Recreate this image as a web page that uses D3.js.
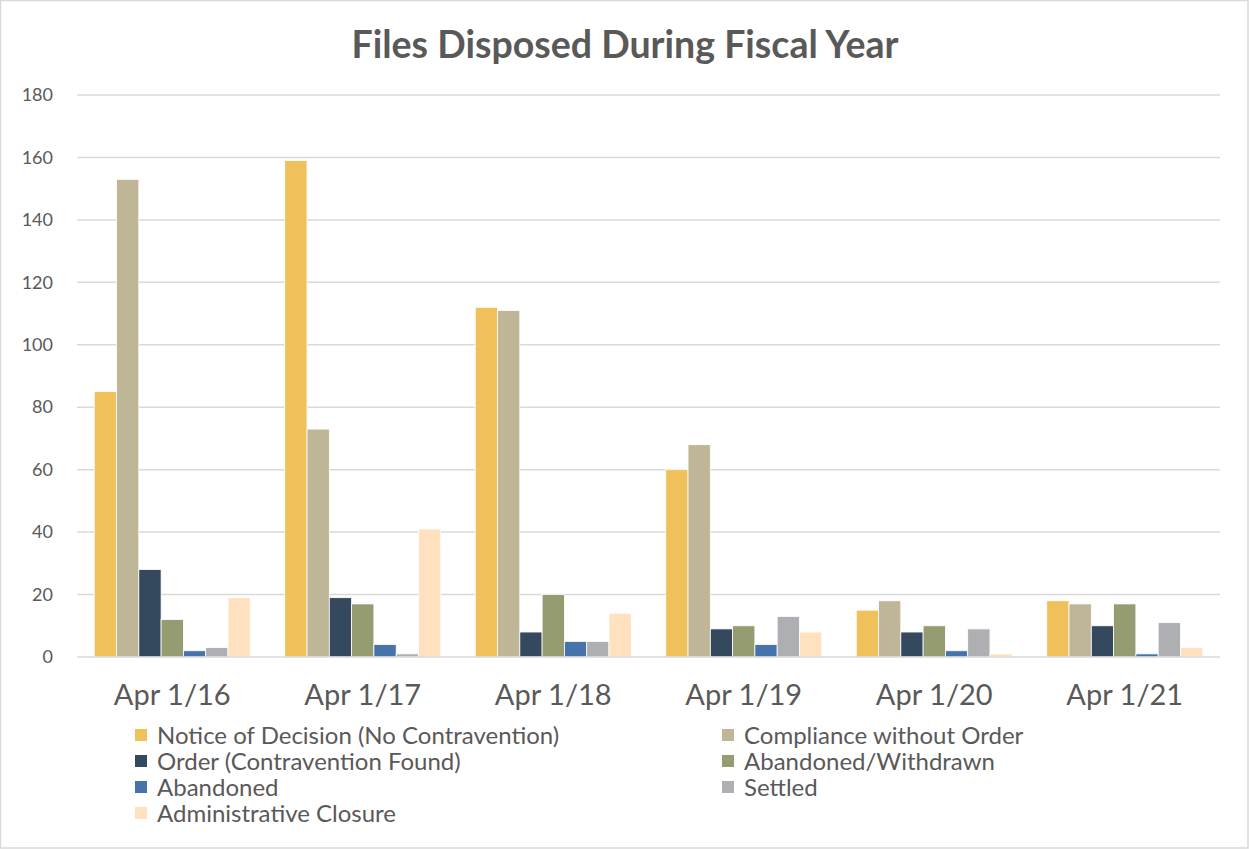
<!DOCTYPE html>
<html>
<head>
<meta charset="utf-8">
<script src="https://cdn.jsdelivr.net/npm/d3@7"></script>
<style>
  html, body { margin: 0; padding: 0; background: #fff; }
  svg { display: block; font-family: Lato, "Open Sans", sans-serif; }
</style>
</head>
<body>
<svg id="chart" width="1249" height="849"></svg>
<script>
// Fiscal-year buckets
const categories = ["Apr 1/16", "Apr 1/17", "Apr 1/18", "Apr 1/19", "Apr 1/20", "Apr 1/21"];

// Disposition types, in drawing order
const seriesNames = [
  "Notice of Decision (No Contravention)",
  "Compliance without Order",
  "Order (Contravention Found)",
  "Abandoned/Withdrawn",
  "Abandoned",
  "Settled",
  "Administrative Closure"
];

// Values per disposition type, one per fiscal year
const noticeOfDecision   = [85, 159, 112, 60, 15, 18];
const complianceNoOrder  = [153, 73, 111, 68, 18, 17];
const orderContravention = [28, 19, 8, 9, 8, 10];
const abandonedWithdrawn = [12, 17, 20, 10, 10, 17];
const abandoned          = [2, 4, 5, 4, 2, 1];
const settled            = [3, 1, 5, 13, 9, 11];
const adminClosure       = [19, 41, 14, 8, 1, 3];

const seriesValues = [noticeOfDecision, complianceNoOrder, orderContravention,
  abandonedWithdrawn, abandoned, settled, adminClosure];

const colors = ["#F0C15B", "#BFB597", "#34495E", "#969C71", "#4673AC", "#AEAFB3", "#FFE1BF"];

const yTicks = [0, 20, 40, 60, 80, 100, 120, 140, 160, 180];

const svg = d3.select("#chart");
const W = 1249, H = 849;

// chart frame
svg.append("rect").attr("x", 0.5).attr("y", 0.5).attr("width", W - 1.5).attr("height", H - 1.5)
  .attr("fill", "#fff").attr("stroke", "#D9D9D9").attr("stroke-width", 1.5);

const plot = { left: 77, right: 1220, top: 95, bottom: 657 };

const x0 = d3.scaleBand().domain(categories).range([plot.left, plot.right]).paddingInner(0).paddingOuter(0);
const x1 = d3.scaleBand().domain(seriesNames)
  .range([x0.bandwidth() * 0.0905, x0.bandwidth() * (1 - 0.0905)]).padding(0);
const y = d3.scaleLinear().domain([0, 180]).range([plot.bottom, plot.top]);

// gridlines
svg.append("g").selectAll("line").data(yTicks.filter(t => t > 0)).join("line")
  .attr("x1", plot.left).attr("x2", plot.right)
  .attr("y1", d => y(d)).attr("y2", d => y(d))
  .attr("stroke", "#D9D9D9").attr("stroke-width", 1.5);

// y tick labels
const yAxis = d3.axisLeft(y).tickValues(yTicks).tickSize(0).tickPadding(0);
const gy = svg.append("g").attr("transform", `translate(${plot.left - 24},0)`).call(yAxis);
gy.select(".domain").remove();
gy.selectAll("text").attr("font-size", 18).attr("fill", "#595959")
  .attr("font-family", "Lato, sans-serif");

// bars
const groups = svg.append("g").selectAll("g").data(categories).join("g")
  .attr("transform", d => `translate(${x0(d)},0)`);

groups.selectAll("rect")
  .data((c, ci) => seriesNames.map((s, si) => ({ s, si, v: seriesValues[si][ci] })))
  .join("rect")
  .attr("x", d => x1(d.s))
  .attr("y", d => y(d.v))
  .attr("width", x1.bandwidth())
  .attr("height", d => y(0) - y(d.v))
  .attr("fill", d => colors[d.si])
  .attr("stroke", "#fff").attr("stroke-width", 0.8);

// category axis line
svg.append("line").attr("x1", plot.left).attr("x2", plot.right)
  .attr("y1", y(0)).attr("y2", y(0)).attr("stroke", "#D9D9D9").attr("stroke-width", 1.5);

// x axis labels
const xAxis = d3.axisBottom(x0).tickSize(0).tickPadding(0);
const gx = svg.append("g").attr("transform", `translate(0,${plot.bottom + 48})`).call(xAxis);
gx.select(".domain").remove();
gx.selectAll("text").attr("font-size", 29).attr("fill", "#595959")
  .attr("font-family", "Lato, sans-serif").attr("dy", 0);

// title
svg.append("text").attr("x", 625).attr("y", 58).attr("text-anchor", "middle")
  .attr("font-size", 37.5).attr("font-weight", "bold").attr("fill", "#595959")
  .text("Files Disposed During Fiscal Year");

// legend, two columns
const legend = svg.append("g");
const legendItems = legend.selectAll("g").data(seriesNames).join("g")
  .attr("transform", (d, i) => `translate(${i % 2 === 0 ? 135 : 722},${729 + Math.floor(i / 2) * 26})`);
legendItems.append("rect").attr("width", 12).attr("height", 12)
  .attr("fill", (d, i) => colors[i]);
legendItems.append("text").attr("x", 22).attr("y", 14.5)
  .attr("font-size", 24).attr("fill", "#595959").text(d => d);
</script>
</body>
</html>
